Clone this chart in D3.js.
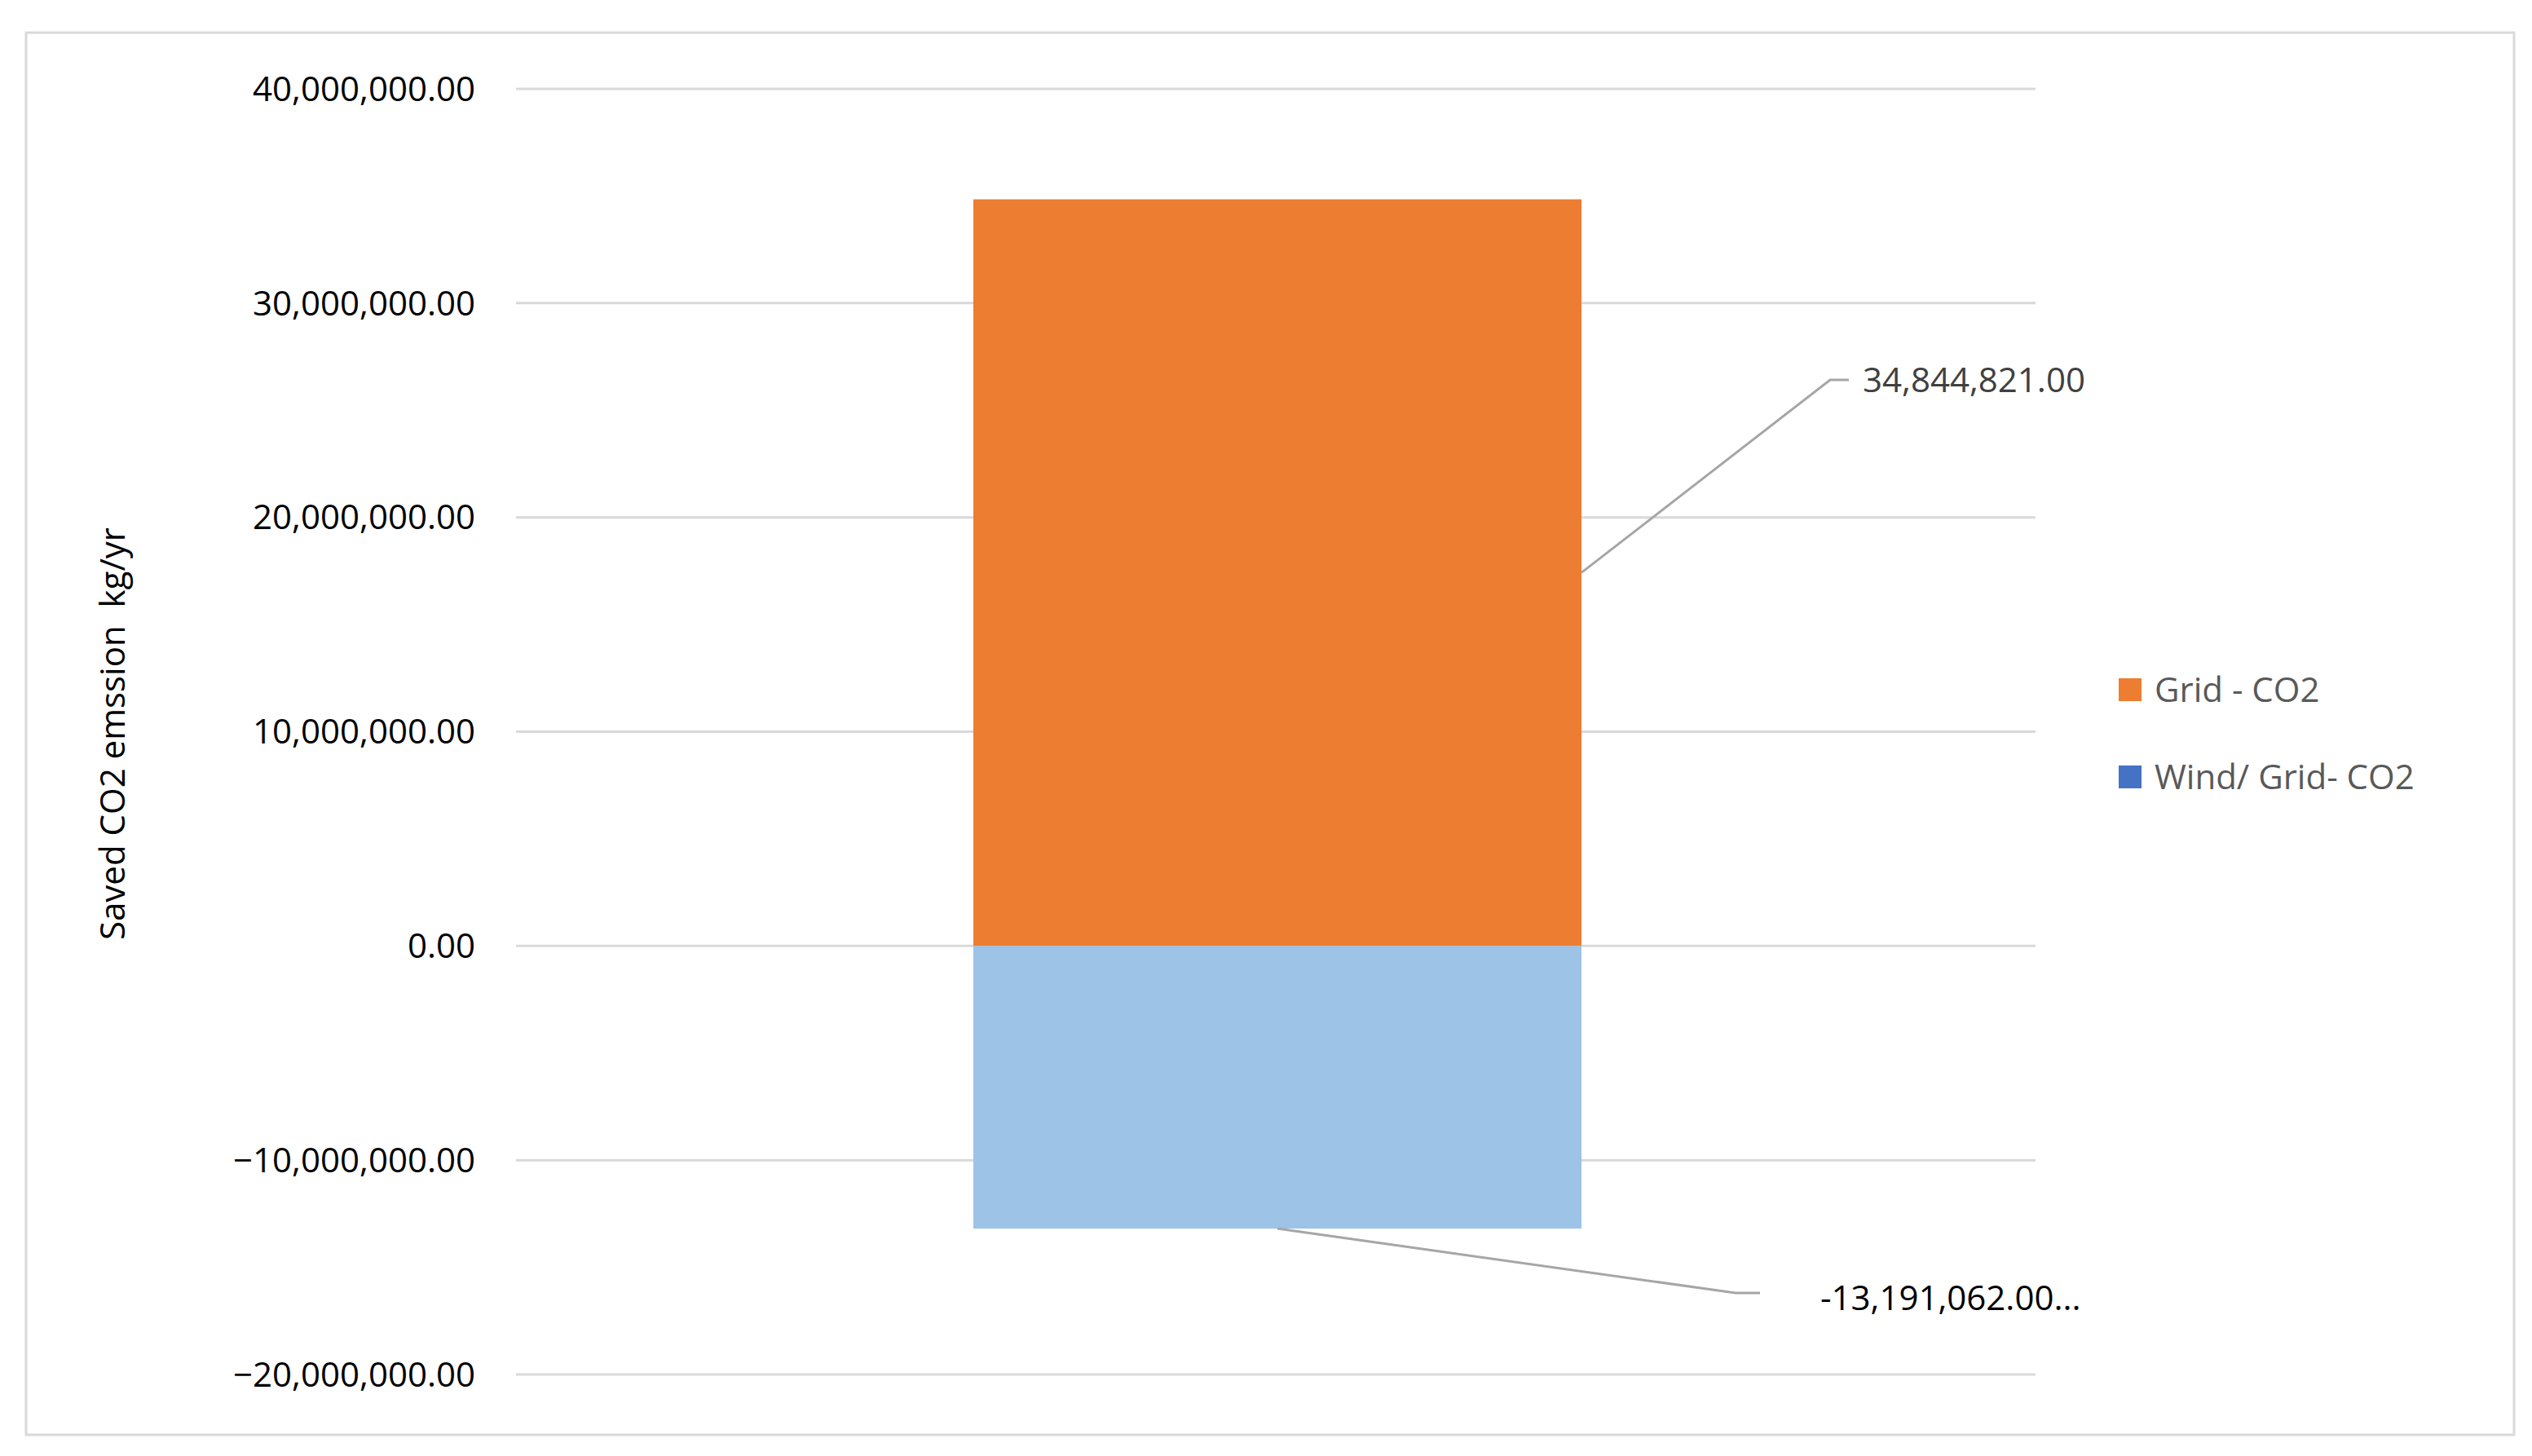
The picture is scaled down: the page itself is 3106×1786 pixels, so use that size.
<!DOCTYPE html>
<html>
<head>
<meta charset="utf-8">
<script src="https://cdn.jsdelivr.net/npm/d3@7"></script>
<style>
  body { margin: 0; background: #fff; }
  text { font-family: "Open Sans", "Noto Sans", sans-serif; }
</style>
</head>
<body>
<div id="chart"></div>
<script>
// data
const series = ["Grid - CO2", "Wind/ Grid- CO2"];
const values = [34844821, -13191062];
const barColors = ["#ED7D31", "#9DC3E6"];
const legendColors = ["#ED7D31", "#4472C4"];
const dataLabels = ["34,844,821.00", "-13,191,062.00..."];
const yTicks = [-20000000, -10000000, 0, 10000000, 20000000, 30000000, 40000000];

const W = 3106, H = 1786;
const svg = d3.select("#chart").append("svg").attr("width", W).attr("height", H);

svg.append("rect").attr("x", 32).attr("y", 40).attr("width", 3052).attr("height", 1720)
  .attr("fill", "#fff").attr("stroke", "#d9d9d9").attr("stroke-width", 3);

const y = d3.scaleLinear().domain([-20000000, 40000000]).range([1686, 109]);
const x = d3.scaleBand().domain(["c"]).range([633, 2497]).paddingInner(0).paddingOuter(0.3);
const fmt = d3.format(",.2f");

// gridlines
svg.append("g").selectAll("line").data(yTicks).enter().append("line")
  .attr("x1", 633).attr("x2", 2497)
  .attr("y1", d => y(d)).attr("y2", d => y(d))
  .attr("stroke", "#d9d9d9").attr("stroke-width", 3);

// tick labels
svg.append("g").selectAll("text").data(yTicks).enter().append("text")
  .attr("x", 583).attr("y", d => y(d)).attr("dy", "0.35em")
  .attr("text-anchor", "end").attr("font-size", 42).attr("fill", "#000")
  .text(d => fmt(d));

// bars
const bx = 1194, bw = 1940 - 1194;
svg.append("g").selectAll("rect").data(values).enter().append("rect")
  .attr("x", bx).attr("width", bw)
  .attr("y", d => y(Math.max(0, d)))
  .attr("height", d => Math.abs(y(d) - y(0)))
  .attr("fill", (d, i) => barColors[i]);

// leader lines + data labels
const leaders = [
  [[bx + bw, y(values[0] / 2)], [2245, 466], [2268, 466]],
  [[bx + bw / 2, y(values[1])], [2129, 1586], [2159, 1586]]
];
svg.append("g").selectAll("path").data(leaders).enter().append("path")
  .attr("d", d => d3.line()(d)).attr("fill", "none")
  .attr("stroke", "#a6a6a6").attr("stroke-width", 3);

svg.append("text").attr("x", 2285).attr("y", 466).attr("dy", "0.35em")
  .attr("font-size", 42).attr("fill", "#404040").text(dataLabels[0]);
svg.append("text").attr("x", 2233).attr("y", 1592).attr("dy", "0.35em")
  .attr("font-size", 42).attr("fill", "#000").text(dataLabels[1]);

// axis title
svg.append("text").attr("transform", "translate(153,900) rotate(-90)")
  .attr("text-anchor", "middle").attr("font-size", 42).attr("fill", "#000")
  .attr("xml:space", "preserve")
  .text("Saved CO2 emssion  kg/yr");

// legend
const lg = svg.append("g").selectAll("g").data(series).enter().append("g")
  .attr("transform", (d, i) => `translate(2599,${846 + i * 107})`);
lg.append("rect").attr("x", 0).attr("y", -14).attr("width", 28).attr("height", 28)
  .attr("fill", (d, i) => legendColors[i]);
lg.append("text").attr("x", 44).attr("y", 0).attr("dy", "0.35em")
  .attr("font-size", 42).attr("fill", "#595959").text(d => d);
</script>
</body>
</html>
